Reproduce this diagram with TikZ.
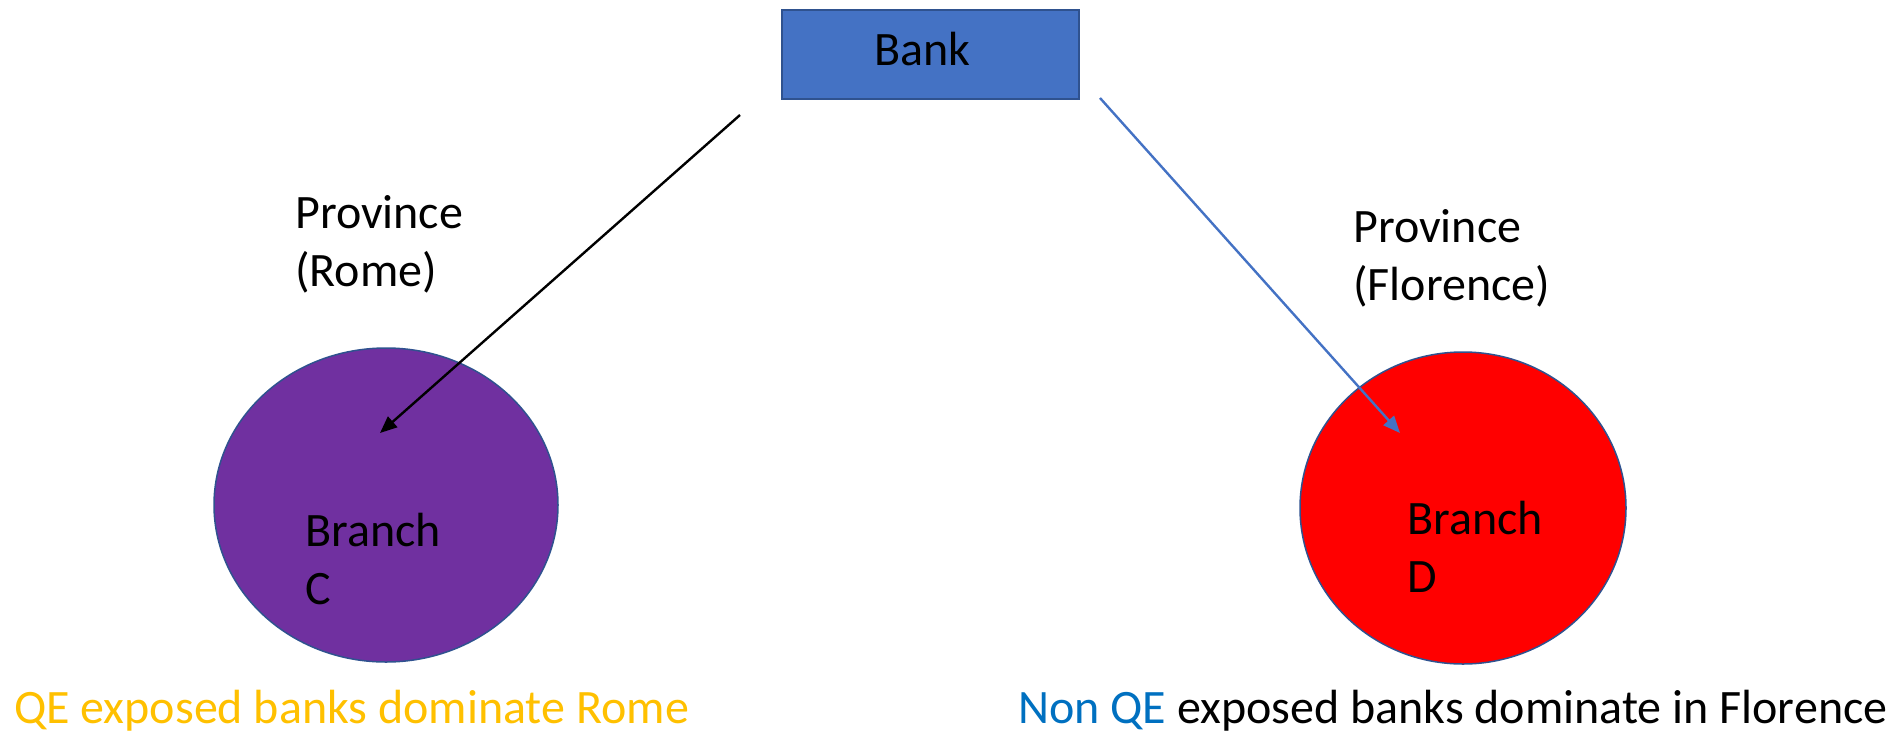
\documentclass[tikz,border=0pt]{standalone}
\usepackage{fontspec}
\setmainfont{Carlito}
\usetikzlibrary{arrows.meta,shapes.geometric}
\definecolor{bankblue}{HTML}{4472C4}
\definecolor{edgeblue}{HTML}{2F528F}
\definecolor{romepurple}{HTML}{7030A0}
\definecolor{qeorange}{HTML}{FFC000}
\definecolor{nonqeblue}{HTML}{0070C0}
\tikzset{
  % anchored at the baseline of the last line
  txt/.style={anchor=base west, inner sep=0pt, align=left,
    font=\fontsize{48}{58}\selectfont},
  region/.style={ellipse, draw=edgeblue, line width=1.5pt, inner sep=0pt},
  link/.style={line width=2.4pt, -{Triangle[length=17pt,width=14pt]}}
}
\begin{document}
\begin{tikzpicture}[x=1pt,y=-1pt]
\useasboundingbox (0,0) rectangle (1903,732);
% head office
\node[draw=edgeblue, fill=bankblue, line width=2pt, minimum width=297pt,
  minimum height=89pt, inner sep=0pt, anchor=north west] (bank) at (781,9) {};
\node[txt] (banklbl) at (874,65) {Bank};
% provinces
\node[region, fill=romepurple, minimum width=344pt, minimum height=314pt]
  (rome) at (386,505) {};
\node[region, fill=red, minimum width=326pt, minimum height=312pt]
  (florence) at (1463,508) {};
\node[txt] (romelbl) at (295,286) {Province\\(Rome)};
\node[txt] (florlbl) at (1353,300) {Province\\(Florence)};
\node[txt] (branchc) at (305,604) {Branch\\C};
\node[txt] (branchd) at (1407,592) {Branch\\D};
% links from the bank to its branches
\coordinate (srcC) at (740,115);
\coordinate (tipC) at (380,433);
\coordinate (srcD) at (1100,98);
\coordinate (tipD) at (1400,433);
\draw[link, black] (srcC) -- (tipC);
\draw[link, bankblue] (srcD) -- (tipD);
% captions
\node[txt, text=qeorange] (capC) at (14,723) {QE exposed banks dominate Rome};
\node[txt] (capD) at (1018,723) {\textcolor{nonqeblue}{Non QE} exposed banks dominate in Florence};
\end{tikzpicture}
\end{document}
